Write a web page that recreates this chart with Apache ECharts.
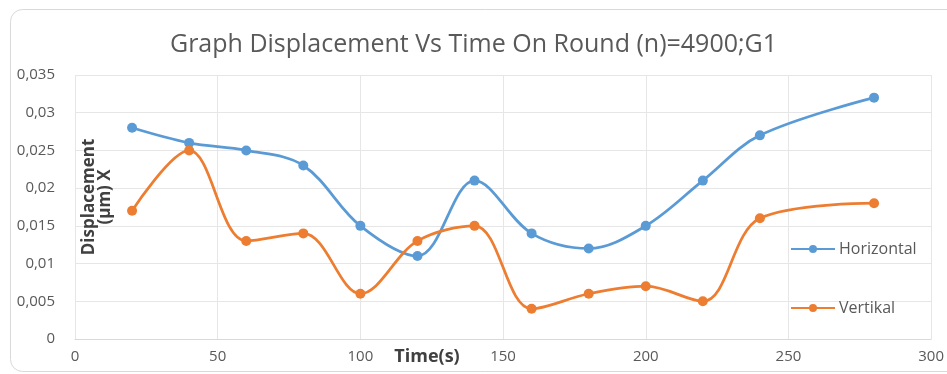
<!DOCTYPE html>
<html>
<head>
<meta charset="utf-8">
<script src="https://cdn.jsdelivr.net/npm/echarts@6/dist/echarts.min.js"></script>
<style>
  html, body { margin: 0; padding: 0; background: #ffffff; }
  #chart { width: 947px; height: 374px; }
</style>
</head>
<body>
<div id="chart"></div>
<script>
// Time stamps (s) of each measurement
const timeSec = [20, 40, 60, 80, 100, 120, 140, 160, 180, 200, 220, 240, 280];
// Displacement readings (µm)
const horizontal = [0.028, 0.026, 0.025, 0.023, 0.015, 0.011, 0.021, 0.014, 0.012, 0.015, 0.021, 0.027, 0.032];
const vertikal = [0.017, 0.025, 0.013, 0.014, 0.006, 0.013, 0.015, 0.004, 0.006, 0.007, 0.005, 0.016, 0.018];

const titleText = 'Graph Displacement Vs Time On Round (n)=4900;G1';
const seriesNames = ['Horizontal', 'Vertikal'];

const FONT = '"Open Sans", "Noto Sans", sans-serif';
const BLUE = '#5B9BD5';
const ORANGE = '#ED7D31';

const pairs = (xs, ys) => xs.map((x, i) => [x, ys[i]]);
const comma = v => String(+v.toFixed(3)).replace('.', ',');

const chart = echarts.init(document.getElementById('chart'), null, { renderer: 'canvas' });

function lineSeries(name, values, color) {
  return {
    name: name,
    type: 'line',
    data: pairs(timeSec, values),
    smooth: 0.35,
    symbol: 'circle',
    symbolSize: 10,
    lineStyle: { color: color, width: 2.75 },
    itemStyle: { color: color },
    z: 3
  };
}

chart.setOption({
  animation: false,
  backgroundColor: '#ffffff',
  title: {
    text: titleText,
    left: 'center',
    top: 32,
    padding: 0,
    textStyle: { fontFamily: FONT, fontSize: 25, fontWeight: 'normal', color: '#595959' }
  },
  legend: {
    orient: 'vertical',
    left: 790,
    top: 241,
    padding: 0,
    itemWidth: 44,
    itemHeight: 10,
    itemGap: 43,
    textStyle: { fontFamily: FONT, fontSize: 16, color: '#595959', padding: [0, 0, 0, -1] },
    data: seriesNames
  },
  grid: { left: 75, right: 15, top: 75, bottom: 35, containLabel: false },
  xAxis: {
    type: 'value',
    min: 0,
    max: 300,
    interval: 50,
    axisLine: { show: true, lineStyle: { color: '#d9d9d9' } },
    axisTick: { show: false },
    axisLabel: { margin: 10, fontFamily: FONT, fontSize: 15, color: '#595959' },
    splitLine: { show: true, lineStyle: { color: '#e6e6e6', width: 1 } }
  },
  yAxis: {
    type: 'value',
    min: 0,
    max: 0.035,
    interval: 0.005,
    axisLine: { show: false },
    axisTick: { show: false },
    axisLabel: { margin: 20, fontFamily: FONT, fontSize: 15, color: '#595959', formatter: comma },
    splitLine: { show: true, lineStyle: { color: '#e6e6e6', width: 1 } }
  },
  graphic: [
    {
      type: 'rect',
      shape: { x: 10.5, y: 9.5, width: 960, height: 362, r: 12 },
      style: { fill: 'none', stroke: '#d9d9d9', lineWidth: 1 },
      z: -1,
      silent: true
    },
    {
      type: 'text',
      x: 97,
      y: 197,
      rotation: Math.PI / 2,
      style: {
        text: 'Displacement\n(µm) X',
        align: 'center',
        verticalAlign: 'middle',
        lineHeight: 16,
        fontFamily: FONT,
        fontSize: 17,
        fontWeight: 'bold',
        fill: '#404040'
      },
      z: 10
    },
    {
      type: 'text',
      x: 427,
      y: 357,
      style: {
        text: 'Time(s)',
        align: 'center',
        verticalAlign: 'middle',
        fontFamily: FONT,
        fontSize: 18,
        fontWeight: 'bold',
        fill: '#404040'
      },
      z: 10
    }
  ],
  series: [
    lineSeries(seriesNames[0], horizontal, BLUE),
    lineSeries(seriesNames[1], vertikal, ORANGE)
  ]
});
</script>
</body>
</html>
